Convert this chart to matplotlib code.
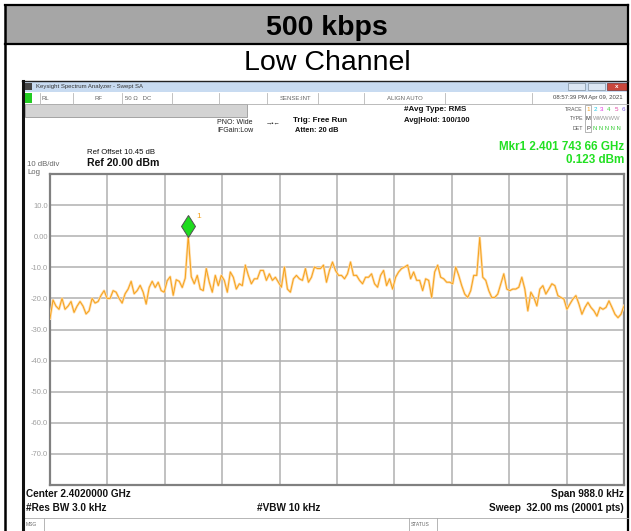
import numpy as np
import matplotlib
matplotlib.use("Agg")
import matplotlib.pyplot as plt
from matplotlib.patches import Rectangle
from matplotlib.lines import Line2D
from matplotlib.transforms import offset_copy

# ---- data ----
center_ghz = 2.402
span_ghz = 0.000988
ref_level = 20.0
db_per_div = 10.0
ytick_values = [10, 0, -10, -20, -30, -40, -50, -60, -70]
ytick_labels = ["10.0", "0.00", "-10.0", "-20.0", "-30.0", "-40.0", "-50.0", "-60.0", "-70.0"]

# trace level (dBm), read at evenly spaced sweep points across the span
trace_dbm = [
    -26.5, -20.5, -22.5, -23.5, -20, -23.5, -22.5, -21, -24.5, -22.5,
    -21, -22.5, -25, -24, -20, -21.5, -21, -19, -17.5, -20,
    -20, -17.5, -18, -20, -21.5, -18.5, -17, -14.5, -18.5, -17.5,
    -15.8, -18, -21.8, -16.5, -14.5, -16.5, -14.8, -17.5, -18, -14.3,
    -13, -19, -14, -14.5, -16.5, -13.5, 0.12, -13,
    -15.3, -12.6, -17, -17.5, -10.4, -14.8, -18, -12.6, -15.9, -12.6,
    -14.2, -18, -11.5, -13.2, -17, -15.3, -15.9, -9.3, -12.6, -15.3,
    -13.7, -13.7, -11, -11, -14.2, -12.1, -14.2, -13.2, -14.8, -16.4,
    -9.9, -17, -18, -13.7, -12.6, -13.7, -14.2, -10.4, -14.8, -13.2,
    -9.9, -10.4, -10.4, -9.3, -14.8, -11, -8.3, -11,
    -12.6, -12.6, -13.7, -12.1, -8.3, -12.6, -12.6, -14.2, -15.3, -13.2,
    -13.2, -12.1, -15.3, -16.4, -12.6, -11, -15.9, -13.7, -17, -13.2,
    -11.5, -10.4, -9.9, -9.3, -13.7, -11.5, -14.2, -14.2, -17.5, -13.7,
    -14.2, -19.7, -11.5, -9.3, -13.2, -13.7, -14.8, -14.8, -15.3, -9.9,
    -12.6, -15.9, -18.6, -19.7, -17.5, -12.6, -12.6, -0.4,
    -13.2, -14.2, -17.5, -19.7, -19.7, -18.6, -15.3, -12.1, -17, -17.5,
    -17, -17, -16.4, -13.2, -17, -24, -18, -19.7, -22.4, -17,
    -15.9, -18.6, -17, -15.3, -15.9, -19.1, -19.7, -20.2, -23.5, -21.8,
    -20.2, -19.1, -21.8, -25.1, -22.9, -21.3, -22.9, -24, -25.7, -22.9,
    -23.5, -22.9, -20.8, -22.9, -25.1, -26.2, -25.1, -22.4,
]
marker_freq_ghz = 2.40174366
marker_dbm = 0.123

start_ghz = center_ghz - span_ghz / 2
stop_ghz = center_ghz + span_ghz / 2
freq_ghz = np.linspace(start_ghz, stop_ghz, len(trace_dbm))

W, H = 631, 531
fig = plt.figure(figsize=(W / 100, H / 100), dpi=100)
fig.patch.set_facecolor("white")
plt.rcParams["font.family"] = ["Liberation Sans", "DejaVu Sans"]


def box(x0, y0, x1, y1, **kw):
    fig.patches.append(Rectangle((x0 / W, 1 - y1 / H), (x1 - x0) / W, (y1 - y0) / H,
                                 transform=fig.transFigure, **kw))


def line(x0, y0, x1, y1, **kw):
    fig.add_artist(Line2D([x0 / W, x1 / W], [1 - y0 / H, 1 - y1 / H],
                          transform=fig.transFigure, **kw))


def txt(x, y, s, **kw):
    kw.setdefault("va", "center")
    fig.text(x / W, 1 - y / H, s, **kw)


# ---- table around the screenshot ----
box(5, 5, 628, 44, facecolor="#a6a6a6", edgecolor="none")
line(5, 5, 628, 5, color="black", lw=1.6)
line(5, 44, 628, 44, color="black", lw=1.6)
line(5, 5, 5, 531, color="black", lw=1.8)
line(628, 5, 628, 531, color="black", lw=1.6)
txt(327, 28, "500 kbps", ha="center", fontsize=20.5, fontweight="bold")
txt(327, 63, "Low Channel", ha="center", fontsize=20.5)

# ---- analyzer window chrome ----
box(22, 81, 628, 92, facecolor="#c8dbf1", edgecolor="none")
line(22, 81, 628, 81, color="#222222", lw=1.0)
box(25, 83, 32, 90, facecolor="#444444", edgecolor="none")
txt(36, 87, "Keysight Spectrum Analyzer - Swept SA", fontsize=4.3, color="#333333")
box(568, 83, 585, 90, facecolor="#dbe6f3", edgecolor="#8090a0", lw=0.5)
box(588, 83, 605, 90, facecolor="#dbe6f3", edgecolor="#8090a0", lw=0.5)
box(607, 83, 627, 90, facecolor="#c9473c", edgecolor="#803030", lw=0.5)
txt(617, 86.5, "x", ha="center", fontsize=4.5, color="white", fontweight="bold")

box(25, 93, 32, 103, facecolor="#22cc22", edgecolor="none")
line(22, 104, 628, 104, color="#b0b0b0", lw=0.6)
for sx in [40, 73, 122, 172, 219, 267, 318, 364, 445, 532]:
    line(sx, 93, sx, 104, color="#b8b8b8", lw=0.6)
for sx, s in [(42, "RL"), (94, "RF"), (125, "50 Ω   DC"), (280, "SENSE:INT"), (387, "ALIGN AUTO")]:
    txt(sx, 98, s, fontsize=4.3, color="#666666")
txt(623, 98, "08:57:39 PM Apr 09, 2021", ha="right", fontsize=4.3, color="#444444")
box(25, 104, 247, 117, facecolor="#d3d3d3", edgecolor="#999999", lw=0.6)

txt(217, 122, "PNO: Wide", fontsize=5, color="#222222")
txt(217, 131, "IFGain:Low", fontsize=5, color="#222222")
txt(266, 124, "→•←", fontsize=4.5, color="#222222")
txt(293, 120, "Trig: Free Run", fontsize=5.8, fontweight="bold", color="#111111")
txt(295, 130, "Atten: 20 dB", fontsize=5.3, fontweight="bold", color="#111111")
txt(404, 110, "#Avg Type: RMS", fontsize=5.8, fontweight="bold", color="#111111")
txt(404, 120, "Avg|Hold: 100/100", fontsize=5.5, fontweight="bold", color="#111111")

txt(583, 110, "TRACE", ha="right", fontsize=3.8, color="#555555")
txt(583, 119, "TYPE", ha="right", fontsize=3.8, color="#555555")
txt(583, 128, "DET", ha="right", fontsize=3.8, color="#555555")
trace_colors = ["#f5a020", "#19c8e8", "#e030e0", "#40d040", "#e040a0", "#8060e0"]
for i, c in enumerate(trace_colors):
    txt(588 + i * 7, 110, str(i + 1), ha="center", fontsize=4.5, color=c)
box(585, 105, 591, 132, facecolor="none", edgecolor="#999999", lw=0.5)
txt(588, 119, "M", ha="center", fontsize=4.2, color="#333333")
txt(593, 119, "WWWWW", fontsize=4.2, color="#999999")
txt(588, 128, "P", ha="center", fontsize=4.2, color="#333333")
txt(593, 128, "N N N N N", fontsize=4.2, color="#33cc33")

txt(87, 153, "Ref Offset 10.45 dB", fontsize=5.6, color="#111111")
txt(87, 163, "Ref 20.00 dBm", fontsize=7.6, fontweight="bold", color="#111111")
txt(27, 164, "10 dB/div", fontsize=5.6, color="#666666")
txt(27, 172, "Log", fontsize=5.6, color="#666666")
txt(624, 147, "Mkr1 2.401 743 66 GHz", ha="right", fontsize=8.4, fontweight="bold", color="#22e022")
txt(624, 160, "0.123 dBm", ha="right", fontsize=8.4, fontweight="bold", color="#22e022")

# ---- graticule and trace ----
ax = fig.add_axes([50 / W, 1 - 485 / H, 574 / W, 311 / H])
ax.set_xlim(start_ghz, stop_ghz)
ax.set_ylim(ref_level - 10 * db_per_div, ref_level)
ax.set_xticks(np.linspace(start_ghz, stop_ghz, 11))
ax.set_xticklabels([])
ax.set_yticks(ytick_values)
ax.set_yticklabels(ytick_labels, fontsize=5.5, color="#a0a0a0")
ax.set_yticks(np.arange(-80, 21, 10), minor=True)
ax.tick_params(axis="both", length=0, pad=1.5)
ax.tick_params(axis="both", which="minor", length=0)
ax.grid(True, which="both", color="#b0b0b0", lw=1.1)
for sp in ax.spines.values():
    sp.set_color("#808080")
    sp.set_linewidth(1.6)
ax.set_axisbelow(True)

ax.plot(freq_ghz, trace_dbm, color="#ffdcaa", lw=1.8, zorder=3)
ax.plot(freq_ghz, trace_dbm, color="#f5a21c", lw=0.7, zorder=4)

mk_tr = offset_copy(ax.transData, fig=fig, y=9.5, units="dots")
ax.plot([marker_freq_ghz], [marker_dbm], marker="d", ms=11.5, mfc="#1edc1e",
        mec="#505050", mew=0.7, transform=mk_tr, zorder=5)
lbl_tr = offset_copy(ax.transData, fig=fig, x=8, y=19, units="dots")
ax.text(marker_freq_ghz, marker_dbm, "1", transform=lbl_tr, fontsize=6,
        color="#f5a21c", va="center", zorder=5)

# ---- bottom annotations ----
txt(26, 494, "Center 2.4020000 GHz", fontsize=7.2, fontweight="bold", color="#111111")
txt(26, 508, "#Res BW 3.0 kHz", fontsize=7.2, fontweight="bold", color="#111111")
txt(257, 508, "#VBW 10 kHz", fontsize=7.2, fontweight="bold", color="#111111")
txt(624, 494, "Span 988.0 kHz", ha="right", fontsize=7.2, fontweight="bold", color="#111111")
txt(624, 508, "Sweep  32.00 ms (20001 pts)", ha="right", fontsize=7.2, fontweight="bold", color="#111111")

line(22, 518, 628, 518, color="#aaaaaa", lw=0.6)
line(44, 518, 44, 531, color="#aaaaaa", lw=0.6)
line(409, 518, 409, 531, color="#aaaaaa", lw=0.6)
line(437, 518, 437, 531, color="#aaaaaa", lw=0.6)
txt(26, 525, "MSG", fontsize=3.6, color="#666666")
txt(411, 525, "STATUS", fontsize=3.6, color="#666666")

# screenshot frame
line(23, 81, 23, 531, color="#111111", lw=2.2)

fig.savefig("out.png", dpi=100, facecolor="white")
